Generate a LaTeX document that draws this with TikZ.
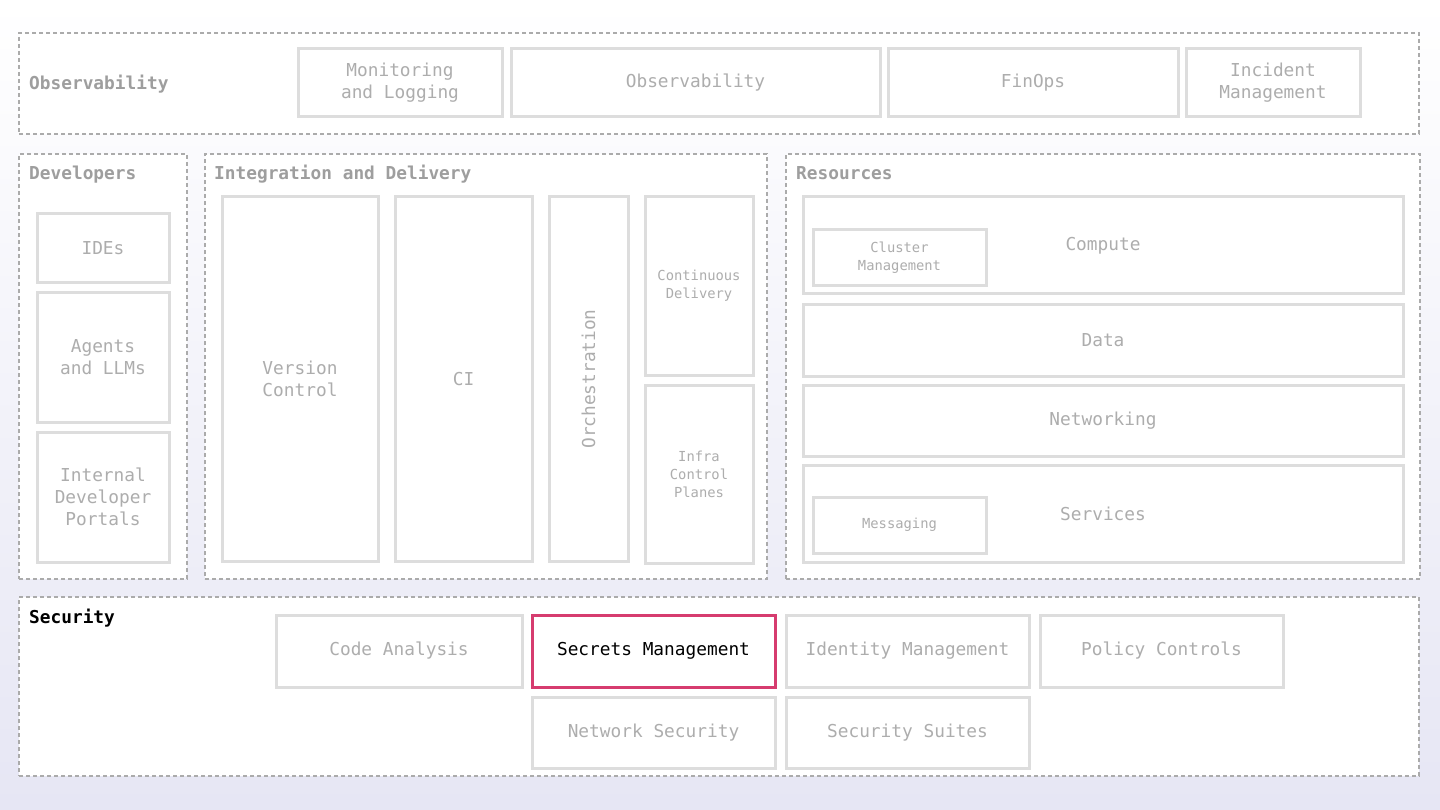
\documentclass[tikz,border=0pt]{standalone}
\usepackage{fontspec}
\newfontfamily\mono{DejaVu Sans Mono}
\definecolor{boxline}{HTML}{DDDDDD}
\definecolor{grpline}{HTML}{ABABAB}
\definecolor{txt}{HTML}{ADADAD}
\definecolor{ttl}{HTML}{9E9E9E}
\definecolor{pinkline}{HTML}{D63C6F}
\definecolor{lav}{HTML}{E6E6F4}
\begin{document}
\begin{tikzpicture}[x=1pt,y=-1pt,
  group/.style={draw=grpline, line width=1.6pt, dash pattern=on 4pt off 3pt, fill=white, rectangle, inner sep=0pt},
  box/.style={draw=boxline, line width=3pt, fill=white, rectangle, inner sep=0pt, align=center, text=txt,
    font=\mono\fontsize{17.8}{22}\selectfont},
  small/.style={font=\mono\fontsize{13.8}{18}\selectfont},
  title/.style={anchor=base west, inner sep=0pt, text=ttl, font=\mono\bfseries\fontsize{17.8}{22}\selectfont},
  hot/.style={draw=pinkline, text=black}
]
\useasboundingbox (0,0) rectangle (1440,810);
\shade[top color=white, middle color=white, bottom color=lav] (0,0) rectangle (1440,810);

% groups
\node[group, minimum width=1400, minimum height=101] (gobs) at (719,83.5) {};
\node[group, minimum width=168, minimum height=425] (gdev) at (103,366.5) {};
\node[group, minimum width=562, minimum height=425] (gint) at (486,366.5) {};
\node[group, minimum width=634, minimum height=425] (gres) at (1103,366.5) {};
\node[group, minimum width=1400, minimum height=179] (gsec) at (719,686.5) {};

% titles
\node[title] (tobs) at (29,89.5) {Observability};
\node[title] (tdev) at (29,180) {Developers};
\node[title] (tint) at (214,180) {Integration and Delivery};
\node[title] (tres) at (796,180) {Resources};
\node[title, text=black] (tsec) at (29,623.5) {Security};

% observability
\node[box, minimum width=204, minimum height=68] (mon) at (400,83) {Monitoring\\and Logging};
\node[box, minimum width=369, minimum height=68] (obs) at (695.5,83) {Observability};
\node[box, minimum width=290, minimum height=68] (fin) at (1033,83) {FinOps};
\node[box, minimum width=174, minimum height=68] (inc) at (1273,83) {Incident\\Management};

% developers
\node[box, minimum width=132, minimum height=69] (ide) at (103,248.5) {IDEs};
\node[box, minimum width=132, minimum height=129] (agt) at (103,357.5) {Agents\\and LLMs};
\node[box, minimum width=132, minimum height=130] (idp) at (103,497) {Internal\\Developer\\Portals};

% integration
\node[box, minimum width=156, minimum height=364] (vc) at (300,379) {Version\\Control};
\node[box, minimum width=137, minimum height=364] (ci) at (463.5,379) {CI};
\node[box, minimum width=79, minimum height=364] (orc) at (588.5,379) {};
\node[text=txt, rotate=90, inner sep=0pt, font=\mono\fontsize{17.8}{22}\selectfont] (orct) at (orc.center) {Orchestration};
\node[box, small, minimum width=108, minimum height=178] (cd) at (699,286) {Continuous\\Delivery};
\node[box, small, minimum width=108, minimum height=178] (icp) at (699,474) {Infra\\Control\\Planes};

% resources
\node[box, minimum width=600, minimum height=97] (cmp) at (1103,245.5) {Compute};
\node[box, small, minimum width=173, minimum height=56] (clu) at (899.5,258) {Cluster\\Management};
\node[box, minimum width=600, minimum height=71] (dat) at (1103,340.5) {Data};
\node[box, minimum width=600, minimum height=71] (net) at (1103,420.5) {Networking};
\node[box, minimum width=600, minimum height=97] (svc) at (1103,513.5) {Services};
\node[box, small, minimum width=173, minimum height=56] (msg) at (899.5,525) {Messaging};

% security
\node[box, minimum width=246, minimum height=72] (code) at (399,651) {Code Analysis};
\node[box, hot, minimum width=243, minimum height=72] (sec) at (653.5,651) {Secrets Management};
\node[box, minimum width=243, minimum height=72] (idm) at (907.5,651) {Identity Management};
\node[box, minimum width=243, minimum height=72] (pol) at (1161.5,651) {Policy Controls};
\node[box, minimum width=243, minimum height=71] (nsec) at (653.5,732.5) {Network Security};
\node[box, minimum width=243, minimum height=71] (suite) at (907.5,732.5) {Security Suites};
\end{tikzpicture}
\end{document}
